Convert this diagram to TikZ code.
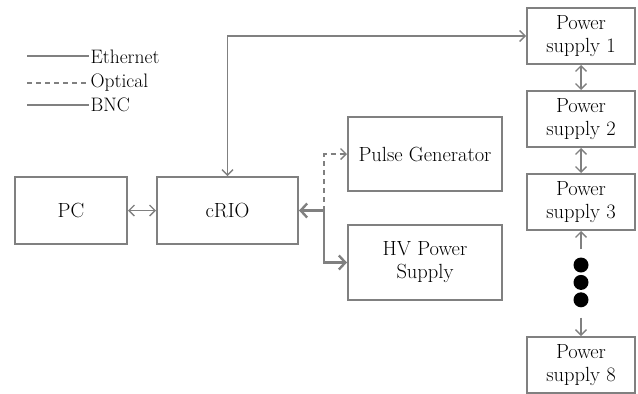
\documentclass[tikz,border=0pt]{standalone}
\usetikzlibrary{arrows.meta,positioning,calc}
\definecolor{linegray}{RGB}{128,128,128}

\begin{document}
\begin{tikzpicture}[
  x=1pt, y=-1pt,
  font=\fontsize{20.5}{23}\selectfont,
  box/.style={draw=linegray, line width=2pt, align=center, inner sep=2pt},
  psbox/.style={box, minimum width=108pt, minimum height=56pt},
  barb/.tip={Straight Barb[length=5.5pt, width=11pt, line width=1.3pt]},
  bigbarb/.tip={Straight Barb[length=6.5pt, width=14pt, line width=2.4pt]},
  eth/.style={draw=linegray, line width=1.5pt},
  opt/.style={draw=linegray, line width=1.5pt, dashed, dash pattern=on 5pt off 4pt},
  bnc/.style={draw=linegray, line width=2.8pt},
  lab/.style={font=\fontsize{19.5}{22}\selectfont, anchor=west, inner sep=1.5pt},
  dot/.style={circle, fill=black, minimum size=15pt, inner sep=0pt}
]
  \useasboundingbox (0,0) rectangle (638,394);

  % legend
  \node[lab] (leth) at (89,57) {Ethernet};
  \node[lab] (lopt) at (89,83) {Optical};
  \node[lab] (lbnc) at (89,105) {BNC};
  \coordinate (eth0) at (27,56);
  \coordinate (opt0) at (27,83);
  \coordinate (bnc0) at (27,105);
  \draw[eth] (eth0) -- (eth0 -| leth.west);
  \draw[opt] (opt0) -- (lopt.west);
  \draw[bnc] (bnc0) -- (lbnc.west);

  % main boxes
  \node[box, minimum width=112pt, minimum height=67pt] (pc) at (71,210.5) {PC};
  \node[box, minimum width=141pt, minimum height=67pt] (crio) at (227.5,210.5) {cRIO};
  \node[box, minimum width=154pt, minimum height=74pt] (pulse) at (425,154) {Pulse Generator};
  \node[box, minimum width=154pt, minimum height=75pt] (hv) at (425,262.5) {HV Power\\Supply};

  % power supply chain
  \node[psbox] (ps1) at (581,36) {Power\\supply 1};
  \node[psbox, below=25pt of ps1] (ps2) {Power\\supply 2};
  \node[psbox, below=25pt of ps2] (ps3) {Power\\supply 3};
  \node[dot] (d1) at (581,265) {};
  \node[dot, below=2pt of d1] (d2) {};
  \node[dot, below=2pt of d2] (d3) {};
  \node[psbox] (ps8) at (581,365) {Power\\supply 8};

  % connectors
  \draw[eth, barb-barb] (pc) -- (crio);
  \draw[eth, barb-barb] (crio.north) |- (ps1.west);
  \draw[eth, barb-barb] (ps1) -- (ps2);
  \draw[eth, barb-barb] (ps2) -- (ps3);
  \draw[eth, -barb] ([yshift=8pt]d1.north) -- (ps3.south);
  \draw[eth, -barb] ([yshift=-10pt]d3.south) -- (ps8.north);

  \coordinate (split) at ($(crio.east)+(25,0)$);
  \draw[bnc, bigbarb-bigbarb] (crio.east) -- (split) |- (hv.west);
  \draw[opt, -barb] (split) |- (pulse.west);
\end{tikzpicture}
\end{document}
